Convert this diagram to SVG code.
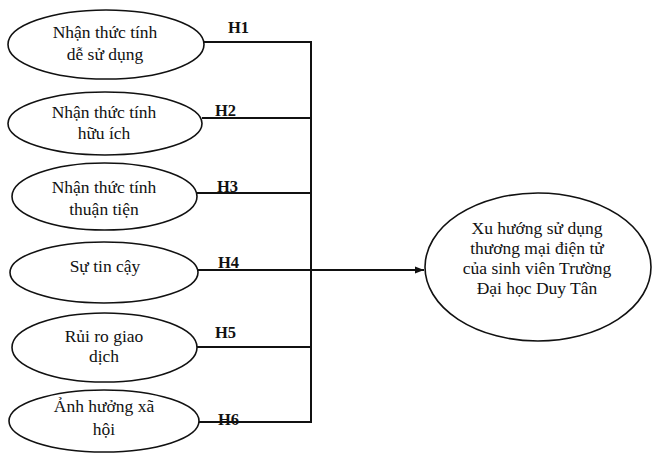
<svg xmlns="http://www.w3.org/2000/svg" width="653" height="453" viewBox="0 0 653 453">
<defs>
<style>
.n{fill:#fff;stroke:#111;stroke-width:1.6}
.t{font-family:"Liberation Serif","Times New Roman",serif;font-size:17.5px;fill:#111;text-anchor:middle}
.h{font-family:"Liberation Serif","Times New Roman",serif;font-size:16.5px;font-weight:bold;fill:#111}
.c{fill:none;stroke:#111;stroke-width:2}
</style>
<marker id="arr" markerWidth="10" markerHeight="8" refX="9" refY="4" orient="auto" markerUnits="userSpaceOnUse">
<path d="M0,0.5 L9,4 L0,7.5 Z" fill="#111"/>
</marker>
</defs>
<rect width="653" height="453" fill="#fff"/>
<g id="connectors">
<path class="c" d="M204,42 H311 M202,118 H311 M197,193 H311 M198,270 H311 M197,347 H311 M199,422 H311 M311,41 V423"/>
<path class="c" d="M311,270 H424" marker-end="url(#arr)"/>
<text class="h" x="228" y="33">H1</text>
<text class="h" x="215" y="116">H2</text>
<text class="h" x="217" y="192">H3</text>
<text class="h" x="218" y="268">H4</text>
<text class="h" x="215" y="338">H5</text>
<text class="h" x="218" y="425">H6</text>
</g>
<g id="n1">
<ellipse class="n" cx="106" cy="44.5" rx="98" ry="34.5"/>
<text class="t" x="105" y="38">Nhận thức tính</text>
<text class="t" x="105" y="60">dễ sử dụng</text>
</g>
<g id="n2">
<ellipse class="n" cx="105" cy="123.5" rx="97" ry="31.5"/>
<text class="t" x="104" y="118">Nhận thức tính</text>
<text class="t" x="104" y="139">hữu ích</text>
</g>
<g id="n3">
<ellipse class="n" cx="104.5" cy="196.5" rx="92.5" ry="33.5"/>
<text class="t" x="104" y="193">Nhận thức tính</text>
<text class="t" x="104" y="215">thuận tiện</text>
</g>
<g id="n4">
<ellipse class="n" cx="104" cy="272.5" rx="94" ry="30.5"/>
<text class="t" x="105" y="272">Sự tin cậy</text>
</g>
<g id="n5">
<ellipse class="n" cx="104.5" cy="347.5" rx="92.5" ry="34.5"/>
<text class="t" x="104" y="342">Rủi ro giao</text>
<text class="t" x="104" y="362">dịch</text>
</g>
<g id="n6">
<ellipse class="n" cx="104" cy="421" rx="95" ry="31"/>
<text class="t" x="104" y="412">Ảnh hưởng xã</text>
<text class="t" x="104" y="435">hội</text>
</g>
<g id="target">
<ellipse class="n" cx="538" cy="267" rx="113" ry="74"/>
<text class="t" x="537" y="234">Xu hướng sử dụng</text>
<text class="t" x="537" y="254">thương mại điện tử</text>
<text class="t" x="537" y="274">của sinh viên Trường</text>
<text class="t" x="537" y="294">Đại học Duy Tân</text>
</g>
</svg>
